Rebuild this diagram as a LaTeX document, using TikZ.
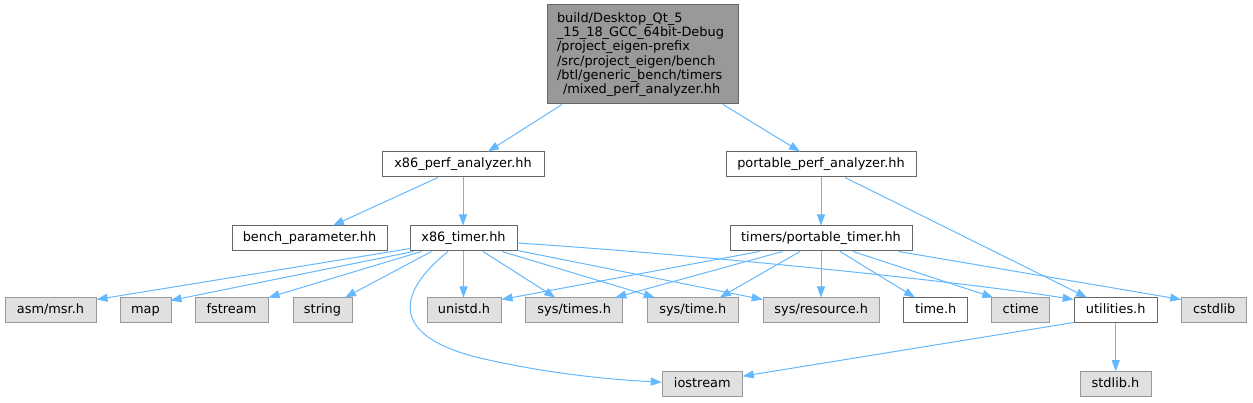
\documentclass[tikz,border=0pt]{standalone}
\usepackage{fontspec}
\setmainfont{DejaVu Sans}
\usetikzlibrary{arrows.meta,calc}
\definecolor{edgeblue}{HTML}{63B8FF}
\definecolor{grayfill}{HTML}{E0E0E0}
\definecolor{grayline}{HTML}{999999}
\definecolor{darkline}{HTML}{666666}
\definecolor{rootfill}{HTML}{999999}
\begin{document}
\begin{tikzpicture}[x=1pt,y=-1pt,
  box/.style={draw=darkline, fill=white, line width=1pt, minimum height=25pt, inner sep=0pt,
    font=\fontsize{12.9}{14.3}\selectfont, text height=9.6pt, text depth=3pt},
  sysbox/.style={box, draw=grayline, fill=grayfill},
  edge/.style={draw=edgeblue, line width=1pt, -{Triangle[length=11pt,width=8pt]}}]
\useasboundingbox (0,0) rectangle (1253,403);
% nodes
\node[draw=darkline, fill=rootfill, line width=1pt, minimum width=191pt, minimum height=99pt,
  inner sep=0pt, text width=171pt, align=left, font=\fontsize{12.9}{14.3}\selectfont]
  (root) at (642.5,54.5) {build/Desktop\_Qt\_5\\\mbox{\_15\_18\_GCC\_64bit-Debug}\\/project\_eigen-prefix\\/src/project\_eigen/bench\\/btl/generic\_bench/timers\\\hspace*{6pt}/mixed\_perf\_analyzer.hh};
\node[box, minimum width=162pt] (x86pa) at (463,164.5) {x86\_perf\_analyzer.hh};
\node[box, minimum width=190pt] (ppa) at (821,164.5) {portable\_perf\_analyzer.hh};
\node[box, minimum width=155pt] (bench) at (309.5,238.5) {bench\_parameter.hh};
\node[box, minimum width=107pt] (xt) at (463.5,238.5) {x86\_timer.hh};
\node[box, minimum width=182pt] (pt) at (821,238.5) {timers/portable\_timer.hh};
\node[sysbox, minimum width=91pt] (asm) at (50.5,310.5) {asm/msr.h};
\node[sysbox, minimum width=51pt] (map) at (145.5,310.5) {map};
\node[sysbox, minimum width=73pt] (fstream) at (231.5,310.5) {fstream};
\node[sysbox, minimum width=59pt] (string) at (322.5,310.5) {string};
\node[sysbox, minimum width=74pt] (unistd) at (464,310.5) {unistd.h};
\node[sysbox, minimum width=97pt] (systimes) at (574.2,310.5) {sys/times.h};
\node[sysbox, minimum width=91pt] (systime) at (692.8,310.5) {sys/time.h};
\node[sysbox, minimum width=116pt] (sysres) at (821.2,310.5) {sys/resource.h};
\node[box, minimum width=64pt] (timeh) at (935.7,310.5) {time.h};
\node[sysbox, minimum width=58pt] (ctime) at (1020.8,310.5) {ctime};
\node[box, minimum width=83pt] (util) at (1115.7,310.5) {utilities.h};
\node[sysbox, minimum width=65pt] (cstdlib) at (1214.2,310.5) {cstdlib};
\node[sysbox, minimum width=80pt] (iostream) at (702.3,384.2) {iostream};
\node[sysbox, minimum width=71pt] (stdlib) at (1115.5,384.2) {stdlib.h};
% edges
\draw[edge] ($(root.south)+(-80.5,0)$) -- ($(x86pa.north)+(25,0)$);
\draw[edge] ($(root.south)+(80.5,0)$) -- ($(ppa.north)+(-21,0)$);
\draw[edge] ($(x86pa.south)+(-25,0)$) -- ($(bench.north)+(23.5,0)$);
\draw[edge] (x86pa.south) -- (x86pa.south |- xt.north);
\draw[edge] (ppa.south) -- (ppa.south |- pt.north);
\draw[edge] ($(ppa.south)+(24,0)$) -- ($(util.north)+(-28.7,0)$);
% from x86_timer
\draw[edge] ($(xt.south west)+(1,-3)$) -- ($(asm.north east)+(0,2)$);
\draw[edge] ($(xt.south west)+(4,0)$) -- ($(map.north east)+(-1,3)$);
\draw[edge] ($(xt.south west)+(12,0)$) -- (fstream.north east);
\draw[edge] ($(xt.south west)+(22,0)$) -- ($(string.north)+(22.5,0)$);
\draw[edge] (xt.south) -- (xt.south |- unistd.north);
\draw[edge] ($(xt.south)+(19.5,0)$) -- ($(systimes.north)+(-19,0)$);
\draw[edge] ($(xt.south)+(38.5,0)$) -- ($(systime.north)+(-38,0)$);
\draw[edge] ($(xt.south east)+(0,-1)$) -- ($(sysres.north west)+(0,2)$);
\draw[edge] ($(xt.east)+(0,4.5)$) .. controls (700,255) and (950,280) .. ($(util.north west)+(0,2)$);
\draw[edge] ($(xt.south)+(-15.5,0)$) .. controls (400,290) and (385,335) .. (480,358)
  .. controls (540,372) and (600,379) .. ($(iostream.west)+(0,-2)$);
% from portable_timer
\draw[edge] ($(pt.south west)+(30,0)$) -- ($(unistd.north east)+(0,2)$);
\draw[edge] ($(pt.south west)+(53,0)$) -- ($(systimes.north)+(41,0)$);
\draw[edge] ($(pt.south)+(-21,0)$) -- ($(systime.north)+(27,0)$);
\draw[edge] (pt.south) -- (pt.south |- sysres.north);
\draw[edge] ($(pt.south)+(19,0)$) -- ($(timeh.north)+(-20.7,0)$);
\draw[edge] ($(pt.south)+(32,0)$) -- ($(ctime.north west)+(2,0)$);
\draw[edge] ($(pt.south east)+(-14,0)$) -- ($(cstdlib.north west)+(0,2)$);
% from utilities
\draw[edge] ($(util.south west)+(0,-1)$) -- ($(iostream.north east)+(0,5)$);
\draw[edge] (util.south) -- (util.south |- stdlib.north);
\end{tikzpicture}
\end{document}
